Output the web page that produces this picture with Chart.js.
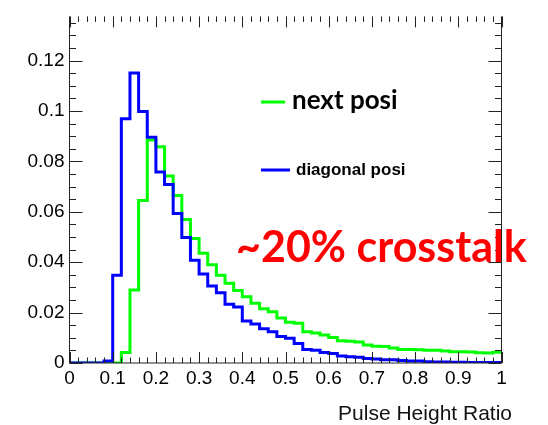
<!DOCTYPE html>
<html>
<head>
<meta charset="utf-8">
<script src="https://cdn.jsdelivr.net/npm/chart.js@4.4.1/dist/chart.umd.min.js"></script>
<style>
  html, body { margin: 0; padding: 0; background: #fff; }
  canvas { display: block; }
</style>
</head>
<body>
<canvas id="myChart" width="548" height="425"></canvas>
<script>
// histogram: 50 bins of 0.02 from 0 to 1
const binWidth = 0.02
const nextPosi = [
  0, 0, 0, 0, 0, 0, 0.0042, 0.029, 0.0645, 0.0885,
  0.0858, 0.0742, 0.0664, 0.0569, 0.0494, 0.0435, 0.039, 0.0348, 0.0316, 0.0288,
  0.0263, 0.0237, 0.0215, 0.0203, 0.0179, 0.0162, 0.0158, 0.0124, 0.0119, 0.0111,
  0.0101, 0.0088, 0.0086, 0.0083, 0.0071, 0.0066, 0.0065, 0.006, 0.0054, 0.0054,
  0.0053, 0.0051, 0.0051, 0.0048, 0.0045, 0.0045, 0.0044, 0.0041, 0.004, 0.0043
]
const diagonalPosi = [
  0, 0, 0, 0, 0.0008, 0.0348, 0.0969, 0.115, 0.0998, 0.0896,
  0.0758, 0.0708, 0.0593, 0.0498, 0.0408, 0.0353, 0.0305, 0.0279, 0.0233, 0.0222,
  0.0167, 0.0155, 0.0136, 0.0124, 0.0105, 0.0098, 0.0077, 0.0054, 0.0051, 0.0042,
  0.0038, 0.0028, 0.0025, 0.0023, 0.0018, 0.0016, 0.0013, 0.0013, 0.001, 0.0008,
  0.0008, 0.0005, 0.0004, 0.0004, 0.0003, 0.0003, 0.0002, 0.0002, 0.0002, 0.0002
]
const xTicks = [0, 0.1, 0.2, 0.3, 0.4, 0.5, 0.6, 0.7, 0.8, 0.9, 1]
const xTickLabels = ['0', '0.1', '0.2', '0.3', '0.4', '0.5', '0.6', '0.7', '0.8', '0.9', '1']
const yTicks = [0, 0.02, 0.04, 0.06, 0.08, 0.1, 0.12]
const yTickLabels = ['0', '0.02', '0.04', '0.06', '0.08', '0.1', '0.12']
const xTitle = 'Pulse Height Ratio'
const note = '~20% crosstalk'

// left bin edges + closing point, drawn with stepped lines
function histPoints(vals) {
  let pts = vals.map((v, i) => ({ x: i * binWidth, y: v }))
  pts.push({ x: vals.length * binWidth, y: vals[vals.length - 1] })
  return pts
}

Chart.defaults.font.family = '"Liberation Sans", Arial, sans-serif'
Chart.defaults.color = '#000'

// ROOT style frame with inward ticks, legend and notes
const rootFrame = {
  id: 'rootFrame',
  afterDatasetsDraw(chart) {
    const { ctx, chartArea: a, scales } = chart
    const x = scales.x, y = scales.y
    ctx.save()
    ctx.strokeStyle = '#222'
    ctx.lineWidth = 1
    ctx.beginPath()
    ctx.moveTo(a.left, a.top); ctx.lineTo(a.left, a.bottom)
    ctx.lineTo(a.right, a.bottom); ctx.lineTo(a.right, a.top)
    // x ticks, bottom and top
    for (let k = 0; k <= 50; k++) {
      let px = Math.round(x.getPixelForValue(k * binWidth)) + 0.5
      let len = k % 5 === 0 ? 11 : 5.5
      ctx.moveTo(px, a.bottom); ctx.lineTo(px, a.bottom - len)
      ctx.moveTo(px, a.top); ctx.lineTo(px, a.top + len)
    }
    // y ticks, left and right
    for (let k = 0; k * 0.005 <= y.max + 1e-9; k++) {
      let py = Math.round(y.getPixelForValue(k * 0.005)) + 0.5
      let len = k % 4 === 0 ? 13 : 6.5
      ctx.moveTo(a.left, py); ctx.lineTo(a.left + len, py)
      ctx.moveTo(a.right, py); ctx.lineTo(a.right - len, py)
    }
    ctx.stroke()

    // legend
    const d = chart.data.datasets
    ctx.lineWidth = 3
    ctx.strokeStyle = d[0].borderColor
    ctx.beginPath(); ctx.moveTo(261, 102); ctx.lineTo(285, 102); ctx.stroke()
    ctx.strokeStyle = d[1].borderColor
    ctx.beginPath(); ctx.moveTo(261, 170); ctx.lineTo(290, 170); ctx.stroke()
    ctx.fillStyle = '#000'
    ctx.textAlign = 'left'
    ctx.textBaseline = 'alphabetic'
    ctx.font = 'bold 26px Lato'
    ctx.fillText(d[0].label, 292, 109)
    ctx.font = 'bold 17px "Liberation Sans"'
    ctx.fillText(d[1].label, 296, 175)

    ctx.fillStyle = '#ff0000'
    ctx.font = 'bold 43px Lato'
    ctx.fillText(note, 236, 262)

    ctx.fillStyle = '#111'
    ctx.textAlign = 'right'
    ctx.font = '21px "Liberation Sans"'
    ctx.fillText(xTitle, 512, 420)
    ctx.restore()
  }
}

new Chart(document.getElementById('myChart'), {
  type: 'line',
  data: {
    datasets: [{
      label: 'next posi',
      data: histPoints(nextPosi),
      borderColor: '#00ff00',
      borderWidth: 3,
      stepped: 'before',
      pointRadius: 0,
      order: 2
    }, {
      label: 'diagonal posi',
      data: histPoints(diagonalPosi),
      borderColor: '#0000ff',
      borderWidth: 3,
      stepped: 'before',
      pointRadius: 0,
      order: 1
    }]
  },
  options: {
    responsive: false,
    animation: false,
    layout: { padding: { left: 0, right: 46.5, top: 0, bottom: 0 } },
    plugins: { legend: { display: false }, tooltip: { enabled: false } },
    scales: {
      x: {
        type: 'linear',
        min: 0,
        max: 1,
        grid: { display: false, drawTicks: false },
        border: { display: false },
        afterBuildTicks: s => { s.ticks = xTicks.map(v => ({ value: v })) },
        afterFit: s => { s.height = 62 },
        ticks: {
          padding: 4,
          maxRotation: 0,
          autoSkip: false,
          font: { size: 19 },
          callback: (v, i) => xTickLabels[i]
        }
      },
      y: {
        min: 0,
        max: 0.1375,
        grid: { display: false, drawTicks: false },
        border: { display: false },
        afterBuildTicks: s => { s.ticks = yTicks.map(v => ({ value: v })) },
        afterFit: s => { s.width = 69.5 },
        ticks: {
          padding: 5,
          autoSkip: false,
          font: { size: 19 },
          callback: (v, i) => yTickLabels[i]
        }
      }
    }
  },
  plugins: [rootFrame]
})
</script>
</body>
</html>
